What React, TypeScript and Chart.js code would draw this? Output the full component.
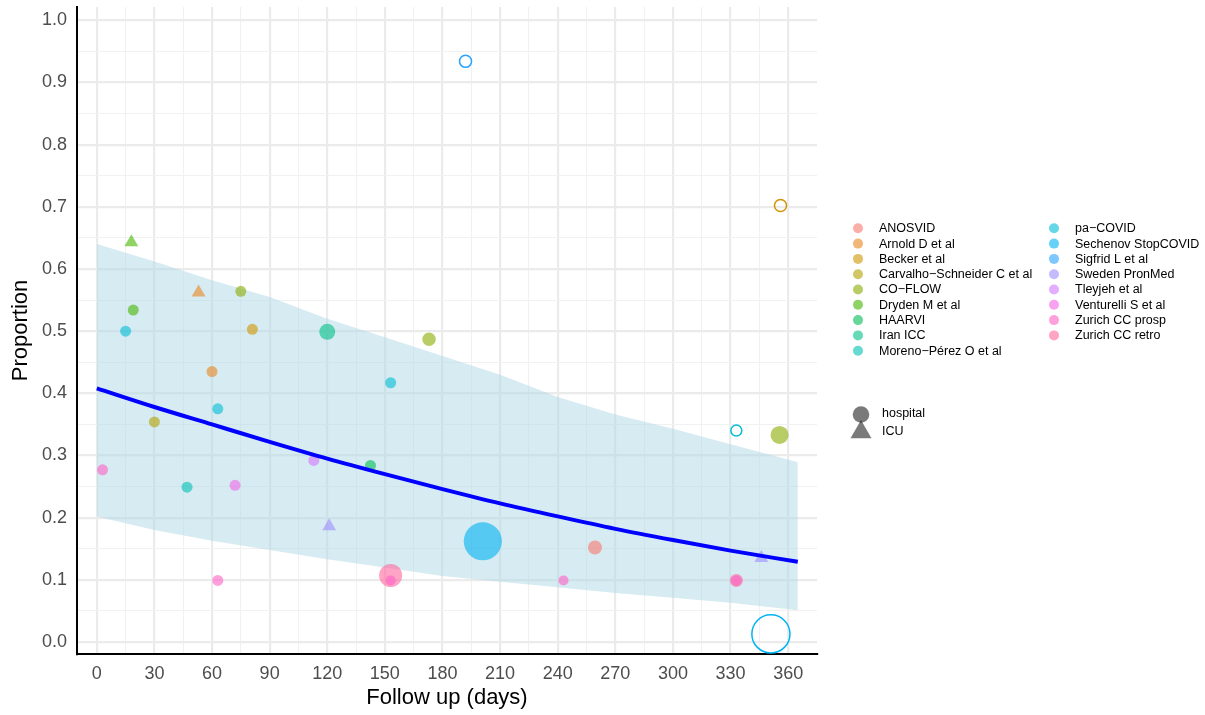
import React, { useEffect, useRef } from 'react';
import { Chart, registerables } from 'chart.js';

Chart.register(...registerables);

// ---------- data ----------
const studies = [
  'ANOSVID',
  'Arnold D et al',
  'Becker et al',
  'Carvalho−Schneider C et al',
  'CO−FLOW',
  'Dryden M et al',
  'HAARVI',
  'Iran ICC',
  'Moreno−Pérez O et al',
  'pa−COVID',
  'Sechenov StopCOVID',
  'Sigfrid L et al',
  'Sweden PronMed',
  'Tleyjeh et al',
  'Venturelli S et al',
  'Zurich CC prosp',
  'Zurich CC retro',
];

const settings = ['hospital', 'ICU'];

// one entry per observation
const ptStudy = [5, 5, 9, 1, 4, 2, 7, 4, 11, 2, 1, 9, 9, 3, 15, 8, 14, 13, 6, 12, 15, 16, 15, 10, 0, 15, 16, 15, 12, 4, 9, 10];
const ptDay = [18, 19, 15, 53, 75, 81, 120, 173, 192, 356, 60, 153, 63, 30, 3, 47, 72, 113, 142.5, 121, 63, 153, 153, 201, 259.4, 243, 333, 333, 346, 355.5, 333, 351];
const ptProp = [0.643, 0.534, 0.5, 0.562, 0.564, 0.503, 0.499, 0.487, 0.934, 0.702, 0.435, 0.417, 0.375, 0.354, 0.277, 0.249, 0.252, 0.292, 0.284, 0.186, 0.099, 0.107, 0.099, 0.162, 0.152, 0.099, 0.099, 0.099, 0.135, 0.333, 0.34, 0.013];
const ptSize = [1, 1, 1, 1, 1, 1, 2.1, 1.5, 1.2, 1.2, 1, 1, 1, 1, 1, 1, 1, 1, 1, 1, 1, 4.4, 0.85, 12, 1.6, 0.85, 1.4, 0.9, 1, 2.7, 1, 12];
const ptSetting = [1, 0, 0, 1, 0, 0, 0, 0, 0, 0, 0, 0, 0, 0, 0, 0, 0, 0, 0, 1, 0, 0, 0, 0, 0, 0, 0, 0, 1, 0, 0, 0];
const ptOpen = [0, 0, 0, 0, 0, 0, 0, 0, 1, 1, 0, 0, 0, 0, 0, 0, 0, 0, 0, 0, 0, 0, 0, 0, 0, 0, 0, 0, 0, 0, 1, 1];

// fitted curve and confidence band
const fitDays = [0, 30, 60, 90, 120, 150, 180, 210, 240, 270, 300, 330, 365];
const fitProp = [0.408, 0.378, 0.35, 0.322, 0.295, 0.27, 0.246, 0.223, 0.202, 0.182, 0.164, 0.147, 0.129];
const fitLower = [0.202, 0.18, 0.163, 0.148, 0.133, 0.12, 0.106, 0.097, 0.088, 0.079, 0.071, 0.063, 0.051];
const fitUpper = [0.64, 0.612, 0.582, 0.555, 0.52, 0.49, 0.46, 0.43, 0.394, 0.366, 0.343, 0.318, 0.289];

// axes
const xTicks = [0, 15, 30, 45, 60, 75, 90, 105, 120, 135, 150, 165, 180, 195, 210, 225, 240, 255, 270, 285, 300, 315, 330, 345, 360];
const xLabels = [0, 30, 60, 90, 120, 150, 180, 210, 240, 270, 300, 330, 360];
const yTicks = [0, 0.05, 0.1, 0.15, 0.2, 0.25, 0.3, 0.35, 0.4, 0.45, 0.5, 0.55, 0.6, 0.65, 0.7, 0.75, 0.8, 0.85, 0.9, 0.95, 1.0];
const yLabels = [0, 0.1, 0.2, 0.3, 0.4, 0.5, 0.6, 0.7, 0.8, 0.9, 1.0];

// ---------- style helpers ----------
function hcl(h: number, c: number, l: number): [number, number, number] {
  const hr = (h * Math.PI) / 180;
  const U = c * Math.cos(hr);
  const V = c * Math.sin(hr);
  const Y = l > 8 ? Math.pow((l + 16) / 116, 3) : l / 903.3;
  const Xn = 0.95047, Yn = 1.0, Zn = 1.08883;
  const den = Xn + 15 * Yn + 3 * Zn;
  const un = (4 * Xn) / den, vn = (9 * Yn) / den;
  const u = U / (13 * l) + un;
  const v = V / (13 * l) + vn;
  const X = (Y * 9 * u) / (4 * v);
  const Z = (Y * (12 - 3 * u - 20 * v)) / (4 * v);
  const lin = [
    3.240479 * X - 1.53715 * Y - 0.498535 * Z,
    -0.969256 * X + 1.875992 * Y + 0.041556 * Z,
    0.055648 * X - 0.204043 * Y + 1.057311 * Z,
  ];
  return lin.map((x) => {
    const g = x <= 0.0031308 ? 12.92 * x : 1.055 * Math.pow(x, 1 / 2.4) - 0.055;
    return Math.round(Math.max(0, Math.min(1, g)) * 255);
  }) as [number, number, number];
}
const palette = studies.map((_, i) => hcl(15 + (360 * i) / studies.length, 100, 65));
const rgba = (c: number[], a: number) => `rgba(${c[0]},${c[1]},${c[2]},${a})`;
const POINT_ALPHA = 0.6;
const FONT = '"Liberation Sans", Arial, Helvetica, sans-serif';

const isMultiple = (v: number, step: number) => Math.abs(v / step - Math.round(v / step)) < 1e-6;

const legendPlugin = {
  id: 'customLegend',
  afterDraw(chart: any) {
    const ctx = chart.ctx as CanvasRenderingContext2D;
    ctx.save();
    ctx.font = `12.5px ${FONT}`;
    ctx.textBaseline = 'middle';
    ctx.textAlign = 'left';
    const perCol = 9;
    studies.forEach((name, i) => {
      const col = Math.floor(i / perCol);
      const row = i % perCol;
      const cx = col === 0 ? 858 : 1054;
      const tx = col === 0 ? 879 : 1075;
      const cy = 228.3 + row * 15.3;
      ctx.fillStyle = rgba(palette[i], POINT_ALPHA);
      ctx.beginPath();
      ctx.arc(cx, cy, 5, 0, Math.PI * 2);
      ctx.fill();
      ctx.fillStyle = '#000';
      ctx.fillText(name, tx, cy + 0.5);
    });
    // shape legend
    ctx.fillStyle = 'rgba(0,0,0,0.52)';
    ctx.beginPath();
    ctx.arc(861, 414.5, 8.3, 0, Math.PI * 2);
    ctx.fill();
    ctx.beginPath();
    ctx.moveTo(861, 420);
    ctx.lineTo(871.5, 438.3);
    ctx.lineTo(850.5, 438.3);
    ctx.closePath();
    ctx.fill();
    ctx.fillStyle = '#000';
    ctx.fillText(settings[0], 882, 414);
    ctx.fillText(settings[1], 882, 432);
    ctx.restore();
  },
};

export default function App() {
  const ref = useRef<HTMLCanvasElement | null>(null);

  useEffect(() => {
    if (!ref.current) return;
    Chart.defaults.font.family = FONT;

    const pointSets = studies.map((name, s) => {
      const data: any[] = [];
      ptStudy.forEach((st, k) => {
        if (st === s) {
          data.push({ x: ptDay[k], y: ptProp[k], w: ptSize[k], tri: ptSetting[k] === 1, open: ptOpen[k] === 1 });
        }
      });
      const col = palette[s];
      const rad = (c: any) => {
        const r = c.raw;
        if (!r) return 0;
        return (r.tri ? 8 : 5.5) * Math.sqrt(r.w);
      };
      return {
        type: 'scatter',
        label: name,
        data,
        order: 1,
        clip: false,
        pointRadius: rad,
        pointHoverRadius: rad,
        pointStyle: (c: any) => (c.raw && c.raw.tri ? 'triangle' : 'circle'),
        pointBackgroundColor: (c: any) => (c.raw && c.raw.open ? 'rgba(0,0,0,0)' : rgba(col, POINT_ALPHA)),
        pointBorderColor: (c: any) => (c.raw && c.raw.open ? rgba(col, 1) : 'rgba(0,0,0,0)'),
        pointBorderWidth: (c: any) => (c.raw && c.raw.open ? 1.5 : 0),
      };
    });

    const chart = new Chart(ref.current, {
      type: 'scatter',
      data: {
        datasets: [
          {
            type: 'line',
            label: 'fit',
            data: fitDays.map((d, i) => ({ x: d, y: fitProp[i] })),
            borderColor: '#0000FF',
            borderWidth: 4,
            pointRadius: 0,
            cubicInterpolationMode: 'monotone',
            fill: false,
            order: 0,
          },
          ...pointSets,
          {
            type: 'line',
            label: 'upper',
            data: fitDays.map((d, i) => ({ x: d, y: fitUpper[i] })),
            borderWidth: 0,
            borderColor: 'rgba(0,0,0,0)',
            pointRadius: 0,
            backgroundColor: 'rgba(173,216,230,0.5)',
            fill: '+1',
            order: 2,
          },
          {
            type: 'line',
            label: 'lower',
            data: fitDays.map((d, i) => ({ x: d, y: fitLower[i] })),
            borderWidth: 0,
            borderColor: 'rgba(0,0,0,0)',
            pointRadius: 0,
            fill: false,
            order: 2,
          },
        ] as any,
      },
      options: {
        responsive: false,
        animation: false,
        events: [],
        layout: { autoPadding: false, padding: { left: 0, right: 388, top: 7, bottom: 0 } },
        plugins: { legend: { display: false }, tooltip: { enabled: false } },
        scales: {
          x: {
            type: 'linear',
            min: -10.3,
            max: 375,
            afterBuildTicks: (scale: any) => {
              scale.ticks = xTicks.map((v) => ({ value: v }));
            },
            afterFit: (scale: any) => {
              scale.height = 61;
              scale.paddingLeft = 0;
              scale.paddingRight = 0;
              scale.paddingTop = 0;
              scale.paddingBottom = 0;
            },
            ticks: {
              autoSkip: false,
              maxRotation: 0,
              padding: 9,
              color: '#4D4D4D',
              font: { size: 18 },
              callback: (v: any) => (xLabels.some((l) => l === v) ? String(v) : ''),
            },
            grid: {
              drawTicks: false,
              color: (c: any) => (c.tick && isMultiple(c.tick.value, 30) ? '#EBEBEB' : '#F1F1F1'),
              lineWidth: (c: any) => (c.tick && isMultiple(c.tick.value, 30) ? 2.2 : 1.1),
            },
            border: { display: true, color: '#000', width: 2 },
            title: {
              display: true,
              text: 'Follow up (days)',
              color: '#000',
              font: { size: 22 },
              padding: { top: 0, bottom: 3.6 },
            },
          },
          y: {
            type: 'linear',
            min: -0.0193,
            max: 1.0214,
            afterBuildTicks: (scale: any) => {
              scale.ticks = yTicks.map((v) => ({ value: v }));
            },
            afterFit: (scale: any) => {
              scale.width = 77;
              scale.paddingLeft = 0;
              scale.paddingRight = 0;
              scale.paddingTop = 0;
              scale.paddingBottom = 0;
            },
            ticks: {
              autoSkip: false,
              padding: 10,
              color: '#4D4D4D',
              font: { size: 18 },
              callback: (v: any) => (yLabels.some((l) => Math.abs(l - v) < 1e-6) ? Number(v).toFixed(1) : ''),
            },
            grid: {
              drawTicks: false,
              color: (c: any) => (c.tick && isMultiple(c.tick.value, 0.1) ? '#EBEBEB' : '#F1F1F1'),
              lineWidth: (c: any) => (c.tick && isMultiple(c.tick.value, 0.1) ? 2.2 : 1.1),
            },
            border: { display: true, color: '#000', width: 2 },
            title: {
              display: true,
              text: 'Proportion',
              color: '#000',
              font: { size: 22 },
              padding: { top: 7.6, bottom: 0 },
            },
          },
        },
      } as any,
      plugins: [legendPlugin],
    });

    return () => chart.destroy();
  }, []);

  return (
    <div style={{ position: 'absolute', left: 0, top: 0, width: 1205, height: 715, background: '#fff' }}>
      <canvas ref={ref} width={1205} height={715} style={{ display: 'block', width: 1205, height: 715 }} />
    </div>
  );
}
